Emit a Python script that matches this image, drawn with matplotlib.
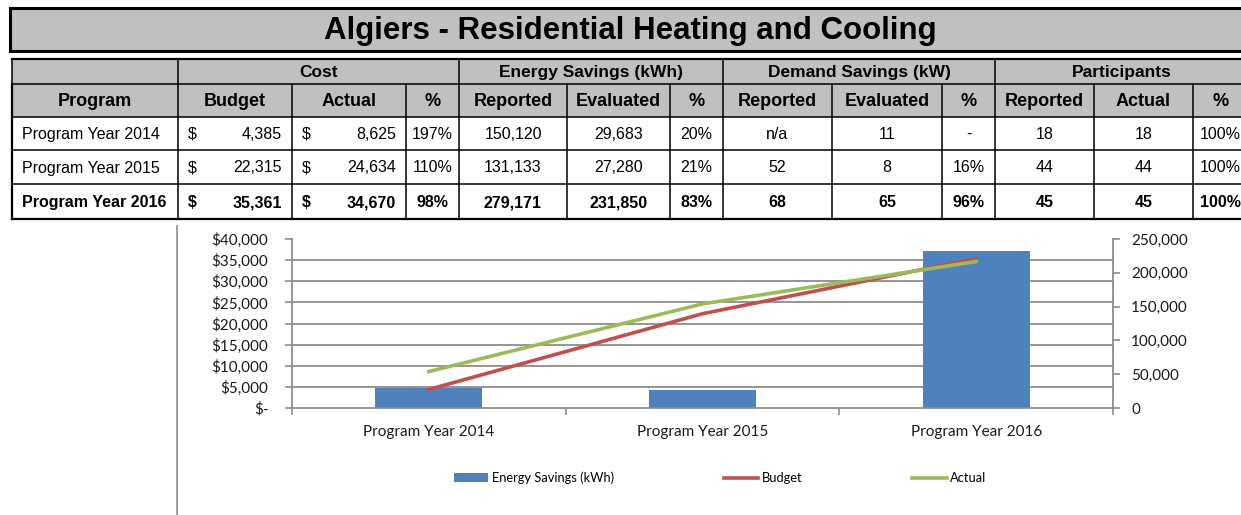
import numpy as np
import matplotlib.pyplot as plt
from matplotlib.patches import Rectangle

# table / chart data
programs = ['Program Year 2014', 'Program Year 2015', 'Program Year 2016']
budget = [4385, 22315, 35361]
actual = [8625, 24634, 34670]
cost_pct = ['197%', '110%', '98%']
energy_reported = [150120, 131133, 279171]
energy_evaluated = [29683, 27280, 231850]
energy_pct = ['20%', '21%', '83%']
demand_reported = ['n/a', '52', '68']
demand_evaluated = ['11', '8', '65']
demand_pct = ['-', '16%', '96%']
part_reported = ['18', '44', '45']
part_actual = ['18', '44', '45']
part_pct = ['100%', '100%', '100%']

title = 'Algiers - Residential Heating and Cooling'
groups = ['Cost', 'Energy Savings (kWh)', 'Demand Savings (kW)', 'Participants']
sub_headers = ['Program', 'Budget', 'Actual', '%', 'Reported', 'Evaluated', '%',
               'Reported', 'Evaluated', '%', 'Reported', 'Actual', '%']

W, H = 1241, 515
TFONT = 'Liberation Sans'
CFONT = 'Lato'
GRID = '#8c8c8c'

fig = plt.figure(figsize=(W / 100, H / 100), dpi=100)

# ---- table drawn in pixel coords ----
tab = fig.add_axes([0, 0, 1, 1])
tab.set_xlim(0, W)
tab.set_ylim(H, 0)
tab.axis('off')

tab.add_patch(Rectangle((10, 8), 1245, 43, fc='#C0C0C0', ec='black', lw=2.2))
tab.text(630, 31, title, ha='center', va='center', fontsize=22.5,
         fontweight='bold', family=TFONT)

cols = [12, 178, 292, 406, 459, 567, 670, 723, 832, 942, 995, 1094, 1193, 1248]
rows = [59, 84, 117, 150, 184, 219]
group_edges = [12, 178, 459, 723, 995, 1248]

tab.add_patch(Rectangle((cols[0], rows[0]), cols[-1] - cols[0], rows[2] - rows[0],
                        fc='#C0C0C0', ec='none'))
for y in rows:
    lw = 1.6 if y in (rows[0], rows[-1]) else 1.1
    tab.plot([cols[0], cols[-1]], [y, y], color='black', lw=lw)
for xe in group_edges:
    tab.plot([xe, xe], [rows[0], rows[1]], color='black', lw=1.1)
for xe in cols:
    lw = 1.6 if xe == cols[0] else 1.1
    tab.plot([xe, xe], [rows[1], rows[-1]], color='black', lw=lw)

for i, g in enumerate(groups):
    cx = (group_edges[i + 1] + group_edges[i + 2]) / 2
    tab.text(cx, (rows[0] + rows[1]) / 2 + 1, g, ha='center', va='center',
             fontsize=12.5, fontweight='bold', family=TFONT)
for j, s in enumerate(sub_headers):
    tab.text((cols[j] + cols[j + 1]) / 2, (rows[1] + rows[2]) / 2 + 1, s,
             ha='center', va='center', fontsize=13, fontweight='bold', family=TFONT)

centered = [energy_reported, energy_evaluated, energy_pct, demand_reported,
            demand_evaluated, demand_pct, part_reported, part_actual, part_pct]
for i, prog in enumerate(programs):
    yc = (rows[i + 2] + rows[i + 3]) / 2 + 1
    fw = 'bold' if i == 2 else 'normal'
    kw = dict(va='center', fontsize=11.5, fontweight=fw, family=TFONT)
    tab.text(cols[0] + 10, yc, prog, ha='left', **kw)
    for c, vals in ((1, budget), (2, actual)):
        tab.text(cols[c] + 10, yc, '$', ha='left', **kw)
        tab.text(cols[c + 1] - 10, yc, f'{vals[i]:,}', ha='right', **kw)
    tab.text((cols[3] + cols[4]) / 2, yc, cost_pct[i], ha='center', **kw)
    for k, vals in enumerate(centered):
        v = vals[i]
        v = f'{v:,}' if isinstance(v, int) else v
        tab.text((cols[k + 4] + cols[k + 5]) / 2, yc, v, ha='center', **kw)

# chart area left border
tab.plot([177, 177], [226, H], color=GRID, lw=1.2)

# ---- combo chart ----
ax_bar = fig.add_axes([292 / W, 1 - 408 / H, (1113 - 292) / W, (408 - 239) / H])
ax_line = ax_bar.twinx()
x = np.arange(len(programs))

bars = ax_bar.bar(x, energy_evaluated, width=0.39, color='#4F81BD',
                  label='Energy Savings (kWh)', zorder=2)
ax_bar.set_xlim(-0.5, 2.5)
ax_bar.set_ylim(0, 250000)
l1, = ax_line.plot(x, budget, color='#C0504D', lw=2.6, label='Budget')
l2, = ax_line.plot(x, actual, color='#9BBB59', lw=2.6, label='Actual')
ax_line.set_ylim(0, 40000)

# right axis (bars)
ax_bar.yaxis.tick_right()
r_ticks = np.arange(0, 250001, 50000)
ax_bar.set_yticks(r_ticks)
ax_bar.set_yticklabels([f'{v:,}' for v in r_ticks], family=CFONT, fontsize=11, color='#1a1a1a')
ax_bar.tick_params(axis='y', which='major', length=5, color=GRID, width=1.2, pad=8)
# gridlines follow the left axis steps
ax_bar.set_yticks(np.arange(0, 250001, 250000 / 8), minor=True)
ax_bar.tick_params(axis='y', which='minor', length=0)
ax_bar.grid(axis='y', which='minor', color=GRID, lw=1.3)
ax_bar.set_axisbelow(True)

# left axis (lines)
ax_line.yaxis.tick_left()
l_ticks = np.arange(0, 40001, 5000)
ax_line.set_yticks(l_ticks)
ax_line.set_yticklabels(['$-' if v == 0 else f'${v:,}' for v in l_ticks],
                        family=CFONT, fontsize=11, color='#1a1a1a')
ax_line.tick_params(axis='y', length=5, color=GRID, width=1.2, pad=12)

# x axis
ax_bar.set_xticks(x)
ax_bar.set_xticklabels(programs, family=CFONT, fontsize=11, color='#1a1a1a')
ax_bar.tick_params(axis='x', which='major', length=0, pad=12)
ax_bar.set_xticks([-0.5, 0.5, 1.5, 2.5], minor=True)
ax_bar.tick_params(axis='x', which='minor', length=5, color=GRID, width=1.2)

for s in ax_line.spines.values():
    s.set_visible(False)
ax_bar.spines['top'].set_visible(False)
for s in ('left', 'right', 'bottom'):
    ax_bar.spines[s].set_color(GRID)
    ax_bar.spines[s].set_linewidth(1.3)

fig.legend([bars, l1, l2], ['Energy Savings (kWh)', 'Budget', 'Actual'],
           loc='center', bbox_to_anchor=(720 / W, 1 - 478 / H), ncol=3,
           frameon=False, prop={'family': CFONT, 'size': 9.3},
           handlelength=2.7, handletextpad=0.25, columnspacing=8.5)

fig.savefig('out.png', dpi=100)
